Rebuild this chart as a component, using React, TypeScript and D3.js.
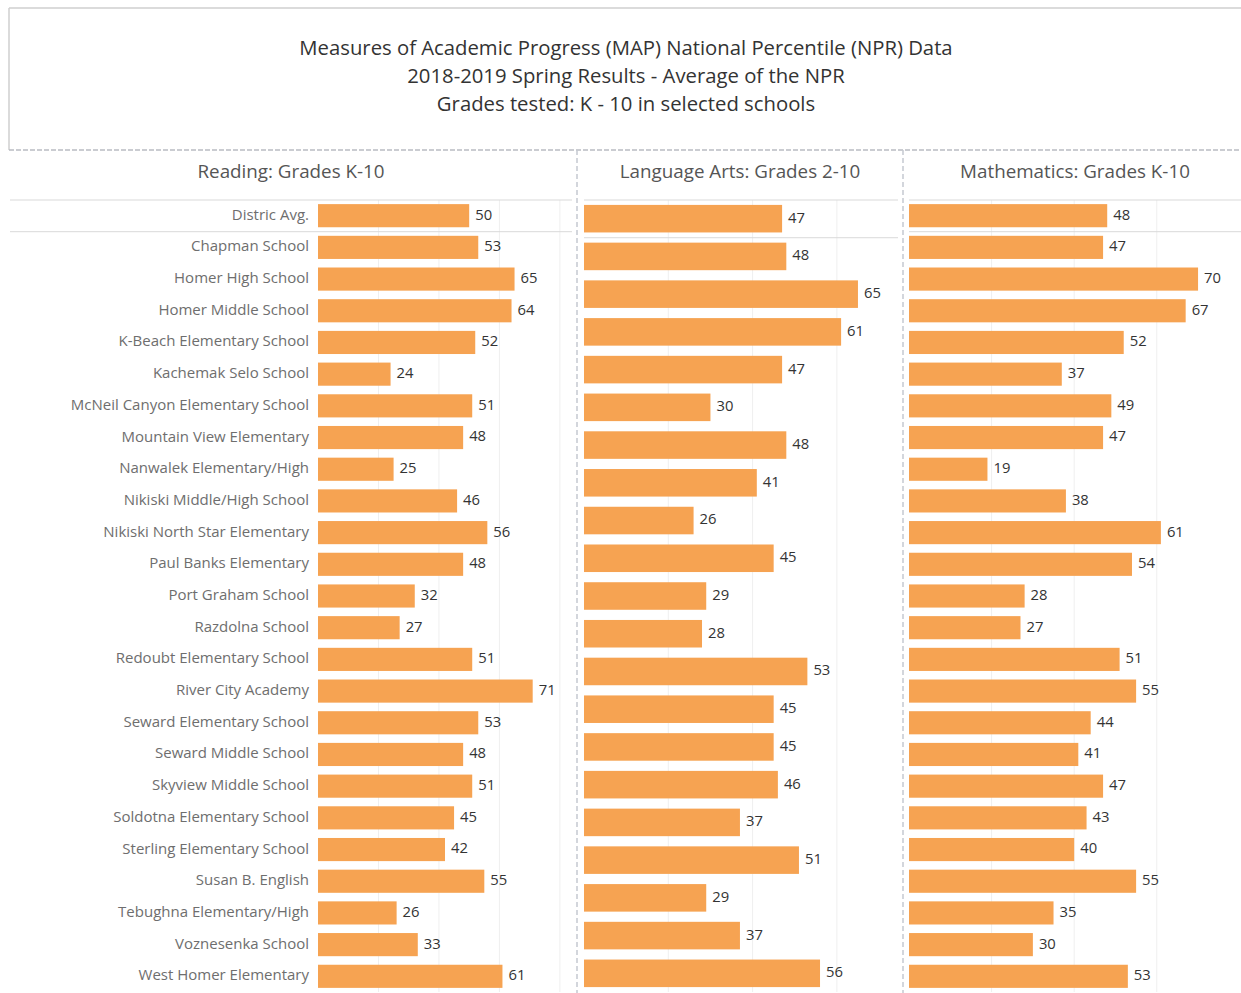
import { useMemo } from 'react';
import * as d3 from 'd3';

// Schools as listed on the Reading / Mathematics panels (district average first)
const schools = [
  'Distric Avg.', 'Chapman School', 'Homer High School', 'Homer Middle School',
  'K-Beach Elementary School', 'Kachemak Selo School', 'McNeil Canyon Elementary School',
  'Mountain View Elementary', 'Nanwalek Elementary/High', 'Nikiski Middle/High School',
  'Nikiski North Star Elementary', 'Paul Banks Elementary', 'Port Graham School',
  'Razdolna School', 'Redoubt Elementary School', 'River City Academy',
  'Seward Elementary School', 'Seward Middle School', 'Skyview Middle School',
  'Soldotna Elementary School', 'Sterling Elementary School', 'Susan B. English',
  'Tebughna Elementary/High', 'Voznesenka School', 'West Homer Elementary',
];

const reading = [50, 53, 65, 64, 52, 24, 51, 48, 25, 46, 56, 48, 32, 27, 51, 71, 53, 48, 51, 45, 42, 55, 26, 33, 61];
// Language Arts has fewer rows (grades 2-10 only), first one is the district average
const languageArts = [47, 48, 65, 61, 47, 30, 48, 41, 26, 45, 29, 28, 53, 45, 45, 46, 37, 51, 29, 37, 56];
const mathematics = [48, 47, 70, 67, 52, 37, 49, 47, 19, 38, 61, 54, 28, 27, 51, 55, 44, 41, 47, 43, 40, 55, 35, 30, 53];

const titleLines = [
  'Measures of Academic Progress (MAP) National Percentile (NPR) Data',
  '2018-2019 Spring Results - Average of the NPR',
  'Grades tested: K - 10 in selected schools',
];
const panelTitles = ['Reading: Grades K-10', 'Language Arts: Grades 2-10', 'Mathematics: Grades K-10'];
const gridTicks = [20, 40, 60, 80];

const width = 1241;
const height = 993;
const rowTop = 200;
const rowBottom = 992;
const barColor = '#f6a352';
const font = '"Open Sans", "Noto Sans", sans-serif';

interface Panel {
  title: string;
  values: number[];
  left: number;   // panel left edge (where separators start)
  x0: number;     // bar baseline
  x1: number;     // right end of the axis
  max: number;    // axis max
  center: number; // header centre
}

export default function App() {
  const panels: Panel[] = [
    { title: panelTitles[0], values: reading, left: 10, x0: 318, x1: 572, max: 84, center: 291 },
    { title: panelTitles[1], values: languageArts, left: 584, x0: 584, x1: 898, max: 74.5, center: 740 },
    { title: panelTitles[2], values: mathematics, left: 909, x0: 909, x1: 1241, max: 80.4, center: 1075 },
  ];

  const dividers = [577, 903];

  const built = useMemo(() => panels.map(p => {
    const x = d3.scaleLinear().domain([0, p.max]).range([p.x0, p.x1]);
    const y = d3.scaleBand<number>()
      .domain(d3.range(p.values.length))
      .range([rowTop, rowBottom])
      .paddingInner(0.27)
      .paddingOuter(0.13);
    return { p, x, y };
  }), []);

  return (
    <svg width={width} height={height} style={{ position: 'absolute', left: 0, top: 0, background: '#fff' }}
      fontFamily={font}>
      {/* title box */}
      <line x1={9} x2={width} y1={8} y2={8} stroke="#cfcfcf" strokeWidth={1.5} />
      <line x1={9} x2={9} y1={8} y2={150} stroke="#cfcfcf" strokeWidth={1.5} />
      <line x1={9} x2={width} y1={150} y2={150} stroke="#b9bcc2" strokeWidth={1.5} strokeDasharray="5,2" />
      {titleLines.map((t, i) =>
        <text key={i} x={626} y={50 + i * 28} textAnchor="middle" dominantBaseline="middle"
          fontSize={20.3} fill="#333">{t}</text>)}

      {dividers.map((d, i) =>
        <line key={i} x1={d} x2={d} y1={150} y2={height} stroke="#c5c9d1" strokeWidth={1.5} strokeDasharray="5,3" />)}

      {built.map(({ p, x, y }, pi) => {
        const band = y.step();
        const firstBottom = rowTop + band;
        return (
          <g key={pi}>
            <text x={p.center} y={173} textAnchor="middle" dominantBaseline="middle"
              fontSize={18.8} fill="#555">{p.title}</text>
            {gridTicks.map(t =>
              x(t) < p.x1 - 2 ?
                <line key={t} x1={x(t)} x2={x(t)} y1={rowTop} y2={rowBottom} stroke="#efefef" strokeWidth={1} /> : null)}
            <line x1={p.left} x2={p.x1} y1={rowTop} y2={rowTop} stroke="#d9d9d9" />
            <line x1={p.left} x2={p.x1} y1={firstBottom} y2={firstBottom} stroke="#d9d9d9" />
            {p.values.map((v, i) => {
              const yy = y(i) ?? 0;
              return (
                <g key={i}>
                  <rect x={x(0)} y={yy} width={x(v) - x(0)} height={y.bandwidth()} fill={barColor} />
                  <text x={x(v) + 6} y={yy + y.bandwidth() / 2} dominantBaseline="middle"
                    fontSize={14.8} fill="#333">{v}</text>
                  {pi === 0 ?
                    <text x={309} y={yy + y.bandwidth() / 2} textAnchor="end" dominantBaseline="middle"
                      fontSize={15} fill="#6e6e6e">{schools[i]}</text> : null}
                </g>
              );
            })}
          </g>
        );
      })}
    </svg>
  );
}
